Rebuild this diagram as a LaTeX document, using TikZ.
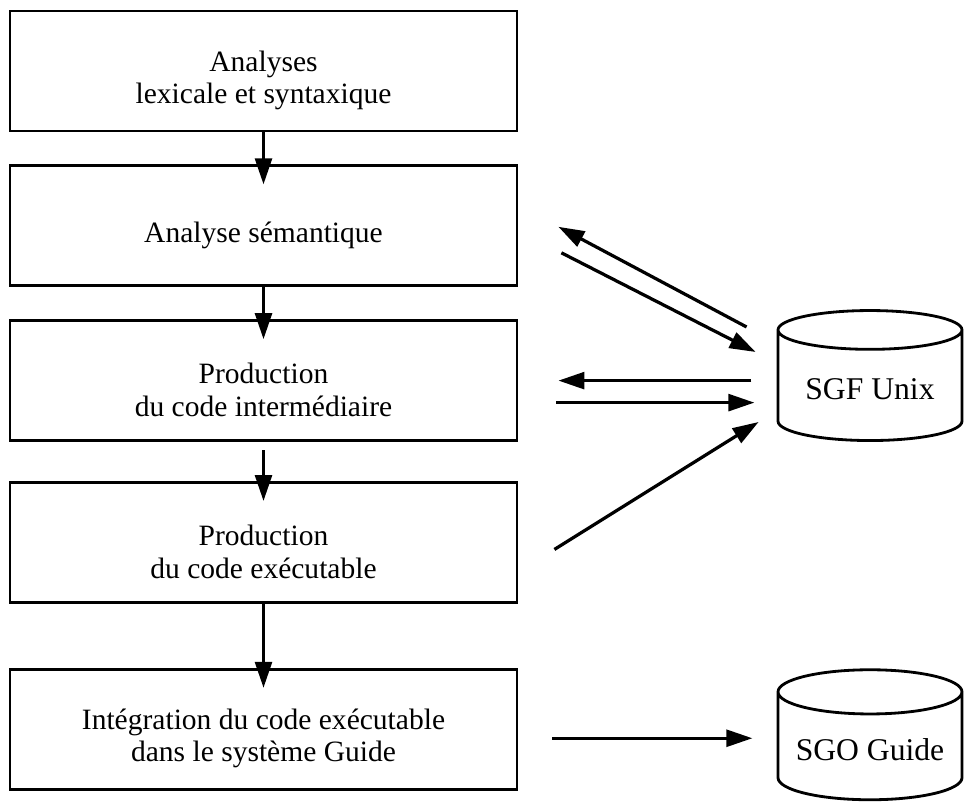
\documentclass[tikz,border=0pt]{standalone}
\usepackage{fontspec}
\setmainfont{Liberation Serif}
\usetikzlibrary{shapes.geometric, arrows.meta, positioning}
\newcommand{\topgap}{\rule{0pt}{28pt}}

\begin{document}
\begin{tikzpicture}[
        node distance=0.8cm,
        every node/.style={font=\fontsize{21}{23}\selectfont},
        box/.style={rectangle, minimum width=12.675cm, minimum height=3cm, text centered, align=center, draw, line width=2pt},
        disk/.style={cylinder, shape border rotate=90, aspect=0.28, minimum width=4.6cm, minimum height=3.25cm, draw, line width=2pt, align=center, font=\fontsize{22.5}{25}\selectfont},
        arrow/.style={line width=2.3pt, -{Triangle[length=0.65cm,width=0.42cm]}},
        down/.style={arrow, shorten >=-0.5cm}
    ]
    \useasboundingbox (0,0) rectangle (24.1,-20.075);
        
        % Compilation phases
        \node[box] (lex) at (6.5875,-1.775) {\topgap Analyses\\lexicale et syntaxique};
        \node[box, below=of lex] (sem) {\topgap Analyse sémantique};
        \node[box, below=of sem] (inter) {\topgap Production\\du code intermédiaire};
        \node[box, below=0.975cm of inter] (exec) {\topgap Production\\du code exécutable};
        \node[box, below=1.6cm of exec] (integ) {\topgap Intégration du code exécutable\\dans le système Guide};
        
        % File systems
        \node[disk] (sgf) at (21.75,-9.725) {SGF Unix};
        \node[disk] (sgo) at (21.75,-18.75) {SGO Guide};
        
        % Arrows between phases
        \draw[down] (lex) -- (sem);
        \draw[down] (sem) -- (inter);
        \draw[down, shorten <=0.2cm] (inter) -- (exec);
        \draw[down] (exec) -- (integ);
        
        % Exchanges with SGF Unix
        \draw[arrow] ([shift={(-0.75,1.55)}]sgf.west) -- ([shift={(1.0,-0.025)}]sem.east);
        \draw[arrow] ([shift={(1.075,-0.675)}]sem.east) -- ([shift={(-0.525,0.925)}]sgf.west);
        \draw[arrow] ([xshift=5.825cm]inter.east) -- ([xshift=1cm]inter.east);
        \draw[arrow] ([shift={(0.95,-0.55)}]inter.east) -- ([xshift=5.9cm,yshift=-0.55cm]inter.east);
        \draw[arrow] ([shift={(0.9,-0.175)}]exec.east) -- ([shift={(-0.45,-0.825)}]sgf.west);
        
        % Storage in SGO Guide
        \draw[arrow] ([shift={(0.85,-0.225)}]integ.east) -- ([xshift=5.85cm,yshift=-0.225cm]integ.east);
        
    \end{tikzpicture}
\end{document}
